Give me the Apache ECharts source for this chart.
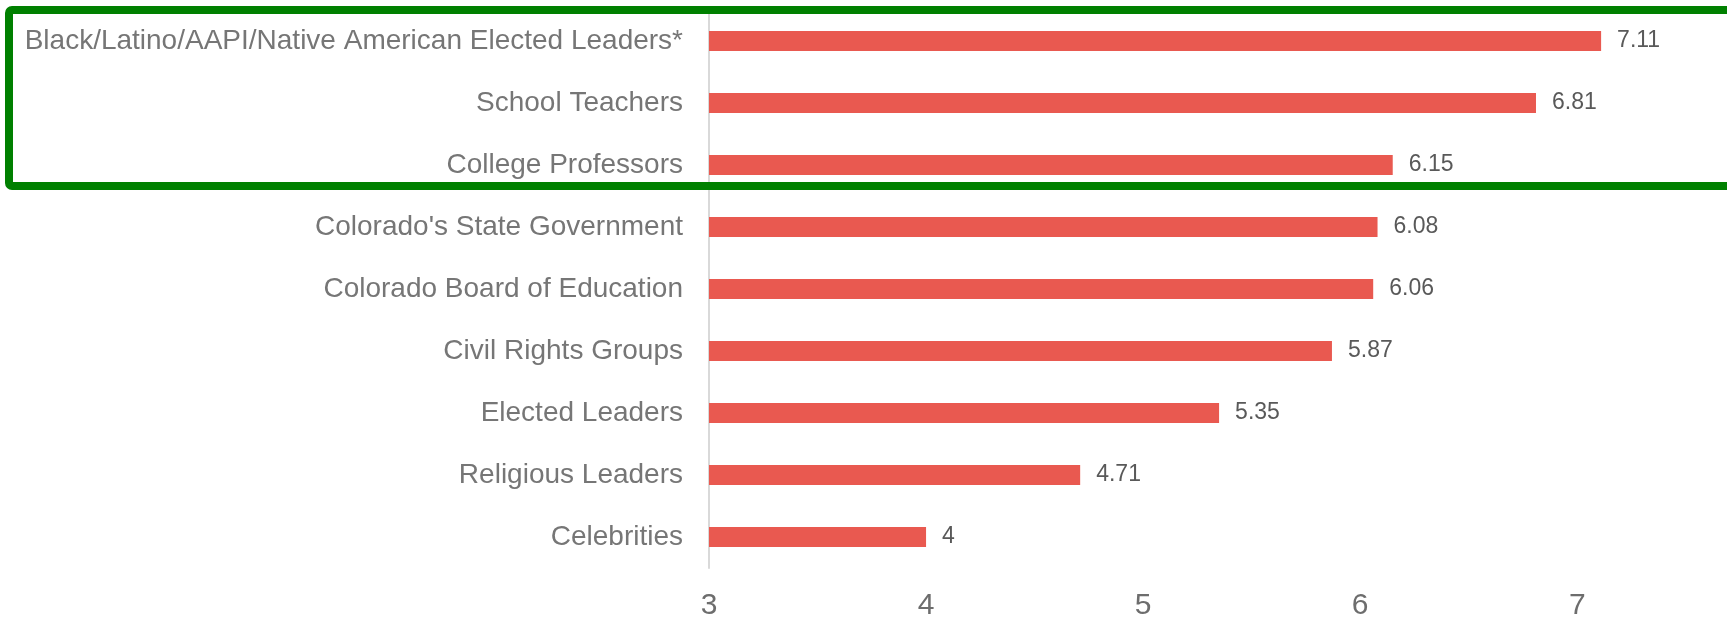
<!DOCTYPE html>
<html>
<head>
<meta charset="utf-8">
<script src="https://cdn.jsdelivr.net/npm/echarts@6/dist/echarts.min.js"></script>
<style>
  html, body { margin: 0; padding: 0; background: #fff; }
  #chart { width: 1727px; height: 619px; }
</style>
</head>
<body>
<div id="chart"></div>
<script>
// trust ratings by group (top to bottom as shown)
const categories = [
    'Black/Latino/AAPI/Native American Elected Leaders*',
    'School Teachers',
    'College Professors',
    "Colorado's State Government",
    'Colorado Board of Education',
    'Civil Rights Groups',
    'Elected Leaders',
    'Religious Leaders',
    'Celebrities',
]
const scores = [7.11, 6.81, 6.15, 6.08, 6.06, 5.87, 5.35, 4.71, 4]
const tickMin = 3
const tickMax = 7.69 // axis is cut off at the right edge
const tickStep = 1

const chart = echarts.init(document.getElementById('chart'))
const option = {
    animation: false,
    textStyle: { fontFamily: 'Liberation Sans, Arial, sans-serif' },
    grid: {
        left: 709,
        right: 0,
        top: 10,
        bottom: 51,
        containLabel: false,
        outerBoundsMode: 'none',
    },
    xAxis: {
        type: 'value',
        min: tickMin,
        max: tickMax,
        interval: tickStep,
        axisLine: { show: false },
        axisTick: { show: false },
        splitLine: { show: false },
        axisLabel: {
            color: '#6d6d6d',
            fontSize: 30,
            margin: 23,
            showMaxLabel: false,
        },
    },
    yAxis: {
        type: 'category',
        data: categories,
        inverse: true,
        axisLine: { show: true, lineStyle: { color: '#d9d9d9', width: 2 } },
        axisTick: { show: false },
        axisLabel: {
            color: '#767676',
            fontSize: 28,
            margin: 26,
        },
    },
    series: [
        {
            type: 'bar',
            data: scores,
            barWidth: 20,
            itemStyle: { color: '#e95950' },
            label: {
                show: true,
                position: 'right',
                distance: 16,
                color: '#595959',
                fontSize: 23,
            },
        },
    ],
    graphic: [
        {
            type: 'rect',
            shape: { x: 9, y: 10, width: 1760, height: 176, r: 3 },
            style: { fill: 'none', stroke: '#008000', lineWidth: 8 },
            z: 100,
        },
    ],
}
chart.setOption(option)
window.addEventListener('resize', () => chart.resize())
</script>
</body>
</html>
